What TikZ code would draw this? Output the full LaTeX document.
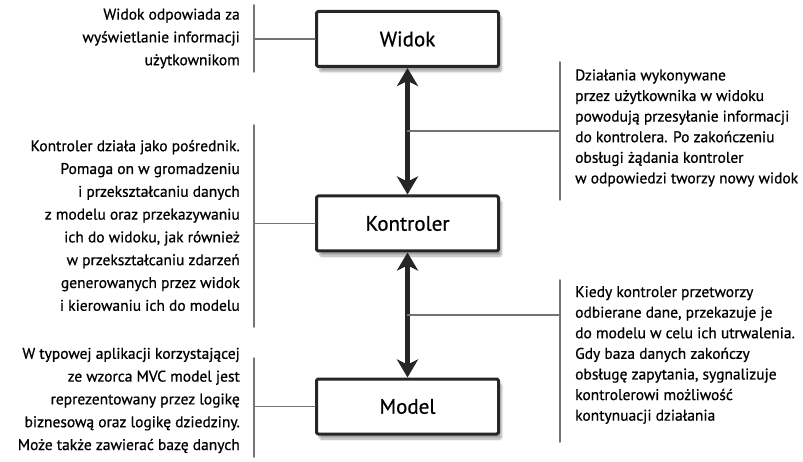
\documentclass[tikz,border=0pt]{standalone}
\usepackage{fontspec}
\setmainfont{PT Sans}[FakeBold=0.7]
\usetikzlibrary{arrows.meta,calc,shadows.blur}

\begin{document}
\begin{tikzpicture}[
	x=1pt, y=-1pt, line join=round, line cap=round,
	box/.style={draw=black!85, line width=3pt, rounded corners=1.5pt, fill=white,
		minimum width=182pt, minimum height=55pt, font=\fontsize{21}{24}\selectfont,
		blur shadow={shadow xshift=3pt, shadow yshift=-5pt, shadow blur steps=10, shadow opacity=35}},
	twoway/.style={line width=4.5pt, black!85,
		{Stealth[length=18pt, width=21pt, inset=5pt]}-{Stealth[length=18pt, width=21pt, inset=5pt]}},
	bracket/.style={draw=black!55, line width=1.5pt},
	notel/.style={inner sep=0pt, anchor=east, align=right, font=\fontsize{15.5}{22.8}\selectfont},
	noter/.style={inner sep=0pt, anchor=west, align=left, font=\fontsize{15.5}{20.6}\selectfont}
	]
	\useasboundingbox (0,0) rectangle (803,462);
	% the three parts
	\node[box] (widok) at (407.5,39) {Widok};
	\node[box] (kontroler) at (407.5,223.5) {Kontroler};
	\node[box] (model) at (407.5,406.5) {Model};
	\draw[twoway] (widok) -- (kontroler);
	\draw[twoway] (kontroler) -- (model);
	\coordinate (wk) at ($(widok.south)!0.5!(kontroler.north)$);
	\coordinate (km) at ($(kontroler.south)!0.5!(model.north)$);
	% left notes
	\draw[bracket] (254,5) coordinate (lw) -- (254,72);
	\draw[bracket] (widok.west) -- (widok.west -| lw);
	\node[notel] (nwidok) at (240,38.5) {Widok odpowiada za\\wyświetlanie informacji\\użytkownikom};
	\draw[bracket] (254,125) coordinate (lk) -- (254,327);
	\draw[bracket] (kontroler.west) -- (kontroler.west -| lk);
	\node[notel] (nkontroler) at (240,225.5) {Kontroler działa jako pośrednik.\\Pomaga on w gromadzeniu\\i przekształcaniu danych\\z modelu oraz przekazywaniu\\ich do widoku, jak również\\w przekształcaniu zdarzeń\\generowanych przez widok\\i kierowaniu ich do modelu};
	\draw[bracket] (254,358) coordinate (lm) -- (254,457);
	\draw[bracket] (model.west) -- (model.west -| lm);
	\node[notel] (nmodel) at (240,400.5) {W typowej aplikacji korzystającej\\ze wzorca MVC model jest\\reprezentowany przez logikę\\biznesową oraz logikę dziedziny.\\Może także zawierać bazę danych};
	% right notes
	\draw[bracket] (560,62) coordinate (rw) -- (560,200);
	\draw[bracket] (wk) -- (wk -| rw);
	\node[noter] (nwk) at (575,128) {Działania wykonywane\\przez użytkownika w widoku\\powodują przesyłanie informacji\\do kontrolera. Po zakończeniu\\obsługi żądania kontroler\\w odpowiedzi tworzy nowy widok};
	\draw[bracket] (560,280) coordinate (rk) -- (560,442);
	\draw[bracket] (km) -- (km -| rk);
	\node[noter] (nkm) at (575,355) {Kiedy kontroler przetworzy\\odbierane dane, przekazuje je\\do modelu w celu ich utrwalenia.\\Gdy baza danych zakończy\\obsługę zapytania, sygnalizuje\\kontrolerowi możliwość\\kontynuacji działania};
\end{tikzpicture}
\end{document}
